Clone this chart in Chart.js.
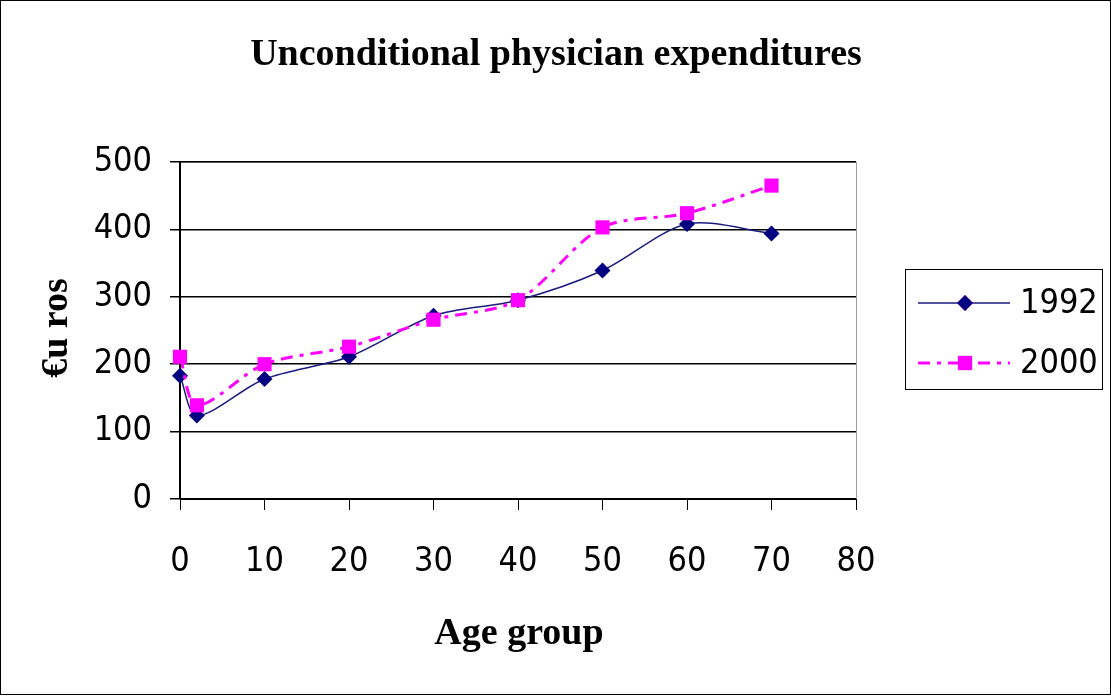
<!DOCTYPE html>
<html>
<head>
<meta charset="utf-8">
<script src="https://cdn.jsdelivr.net/npm/chart.js@4.4.1/dist/chart.umd.min.js"></script>
<style>
  html, body { margin: 0; padding: 0; background: #fff; }
  #wrap { width: 1111px; height: 696px; }
</style>
</head>
<body>
<div id="wrap"><canvas id="chart" width="1111" height="696"></canvas></div>
<script>
// data
var ages = [0, 2, 10, 20, 30, 40, 50, 60, 70];
var exp1992 = [183, 124, 178, 211, 272, 295, 339, 408, 394];
var exp2000 = [211, 139, 200, 226, 266, 295, 403, 424, 465];
var xTicks = [0, 10, 20, 30, 40, 50, 60, 70, 80];
var yTicks = [0, 100, 200, 300, 400, 500];
var chartTitle = 'Unconditional physician expenditures';
var xTitle = 'Age group';
var yTitle = '€u ros';

var tickFont = { family: "'Liberation Sans Narrow', 'DejaVu Sans Condensed', sans-serif", size: 34 };
var serifBold = "bold 38px 'Liberation Serif', 'DejaVu Serif', serif";

function toPoints(xs, ys) {
    return xs.map(function (x, i) { return { x: x, y: ys[i] }; });
}

// outer frame, plot border and the three titles
var framePlugin = {
    id: 'frame',
    beforeDraw: function (chart) {
        var ctx = chart.ctx;
        ctx.save();
        ctx.fillStyle = '#fff';
        ctx.fillRect(0, 0, chart.width, chart.height);
        ctx.strokeStyle = '#000';
        ctx.lineWidth = 1;
        ctx.strokeRect(0.5, 0.5, chart.width - 1, chart.height - 2);
        var a = chart.chartArea;
        ctx.strokeStyle = '#a0a0a0';
        ctx.strokeRect(a.left, a.top + 0.5, a.right - a.left + 0.5, a.bottom - a.top);
        ctx.restore();
    },
    afterDraw: function (chart) {
        var ctx = chart.ctx;
        ctx.save();
        ctx.fillStyle = '#000';
        ctx.font = serifBold;
        ctx.textAlign = 'center';
        ctx.textBaseline = 'alphabetic';
        ctx.fillText(chartTitle, 556, 65);
        ctx.fillText(xTitle, 519, 644);
        ctx.translate(67, 328);
        ctx.rotate(-Math.PI / 2);
        ctx.fillText(yTitle, 0, 0);
        ctx.restore();
    }
};

// legend box on the right, Excel style
var legendPlugin = {
    id: 'boxLegend',
    afterDraw: function (chart) {
        var ctx = chart.ctx;
        var x0 = 905, y0 = 269, w = 197, h = 120;
        ctx.save();
        ctx.strokeStyle = '#000';
        ctx.lineWidth = 1;
        ctx.strokeRect(x0 + 0.5, y0 + 0.5, w, h);
        chart.data.datasets.forEach(function (ds, i) {
            var yy = y0 + 34 + i * 60;
            ctx.strokeStyle = ds.borderColor;
            ctx.lineWidth = ds.borderWidth;
            ctx.setLineDash(ds.borderDash || []);
            ctx.beginPath();
            ctx.moveTo(918, yy);
            ctx.lineTo(1010, yy);
            ctx.stroke();
            ctx.setLineDash([]);
            Chart.helpers.drawPoint(ctx, {
                pointStyle: ds.pointStyle, radius: ds.pointRadius, borderWidth: 0
            }, 965, yy);
            ctx.fillStyle = ds.pointBackgroundColor;
            ctx.fill();
            ctx.fillStyle = '#000';
            ctx.font = tickFont.size + 'px ' + tickFont.family;
            ctx.textBaseline = 'middle';
            ctx.textAlign = 'left';
            ctx.fillText(ds.label, 1020, yy + 1);
        });
        ctx.restore();
    }
};

new Chart(document.getElementById('chart'), {
    type: 'line',
    data: {
        datasets: [
            {
                label: '1992',
                data: toPoints(ages, exp1992),
                borderColor: '#1a1a80',
                borderWidth: 1.5,
                tension: 0.3,
                pointStyle: 'rectRot',
                pointRadius: 8,
                pointBackgroundColor: '#000080',
                pointBorderWidth: 0,
                clip: false,
                order: 1
            },
            {
                label: '2000',
                data: toPoints(ages, exp2000),
                borderColor: '#ff00ff',
                borderWidth: 3,
                borderDash: [12, 7, 4, 7],
                tension: 0.3,
                pointStyle: 'rect',
                pointRadius: 10,
                pointBackgroundColor: '#ff00ff',
                pointBorderWidth: 0,
                clip: false,
                order: 0
            }
        ]
    },
    options: {
        responsive: false,
        animation: false,
        layout: { padding: { left: 0, right: 255, top: 162, bottom: 0 } },
        plugins: {
            legend: { display: false },
            tooltip: { enabled: false },
            title: { display: false }
        },
        scales: {
            x: {
                type: 'linear',
                min: 0,
                max: 80,
                afterBuildTicks: function (s) { s.ticks = xTicks.map(function (v) { return { value: v }; }); },
                afterFit: function (s) { s.height = 197; },
                grid: { display: true, drawOnChartArea: false, drawTicks: true, tickLength: 11, color: '#000' },
                border: { color: '#000', width: 1 },
                ticks: { color: '#000', font: tickFont, padding: 32, maxRotation: 0 }
            },
            y: {
                min: 0,
                max: 500,
                afterBuildTicks: function (s) { s.ticks = yTicks.map(function (v) { return { value: v }; }); },
                afterFit: function (s) { s.width = 180; },
                grid: { color: '#000', lineWidth: 1.5, tickLength: 10 },
                border: { color: '#000', width: 2 },
                ticks: { color: '#000', font: tickFont, padding: 18 }
            }
        }
    },
    plugins: [framePlugin, legendPlugin]
});
</script>
</body>
</html>
